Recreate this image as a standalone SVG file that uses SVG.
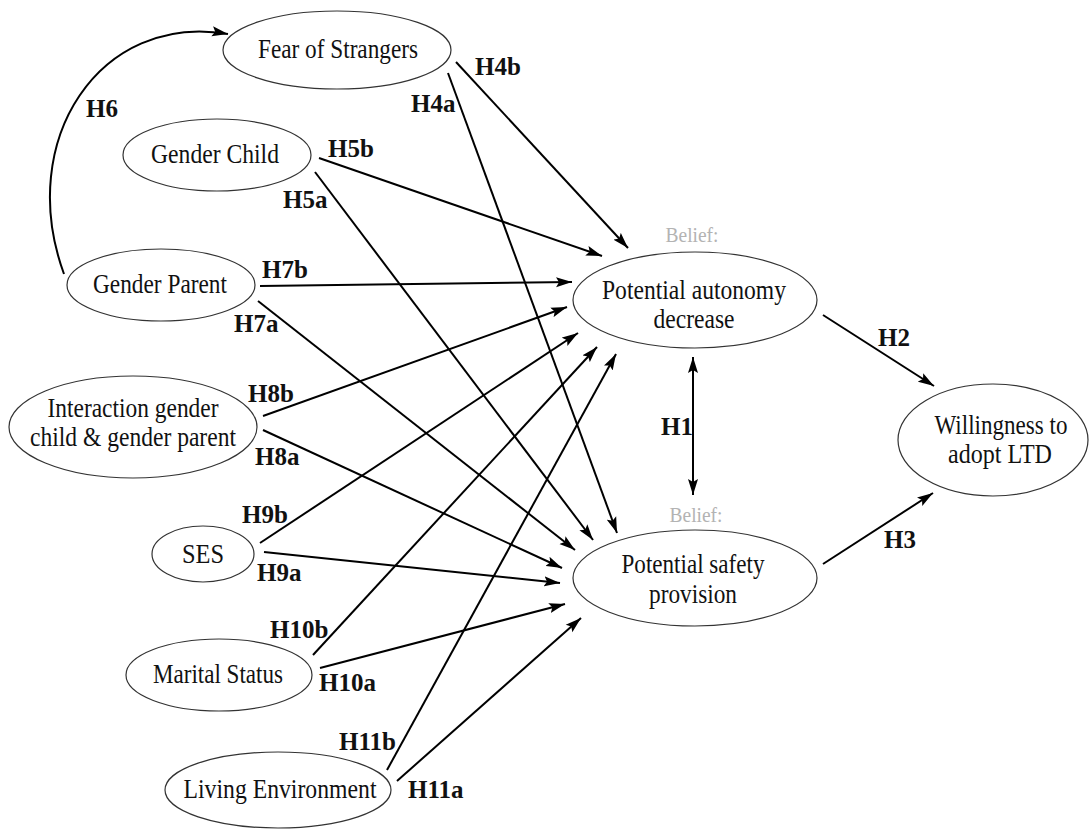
<svg xmlns="http://www.w3.org/2000/svg" width="1090" height="830" viewBox="0 0 1090 830">
<style>
.node ellipse{fill:#fff;stroke:#333;stroke-width:1.2}
.t{font-family:"Liberation Serif","Times New Roman",serif;font-size:26.5px;fill:#111;text-anchor:middle}
.b{font-family:"Liberation Serif","Times New Roman",serif;font-size:20px;fill:#b3b3b3;text-anchor:middle}
.lbl{font-family:"Liberation Serif","Times New Roman",serif;font-size:25px;font-weight:bold;fill:#111}
.edges line,.edges path{stroke:#000;stroke-width:2;fill:none;marker-end:url(#ah)}
</style>
<defs>
<marker id="ah" markerUnits="userSpaceOnUse" markerWidth="17" markerHeight="11" refX="16" refY="5.5" orient="auto">
<path d="M0,0.5 L16,5.5 L0,10.5 L3,5.5 z" fill="#000"/>
</marker>
<marker id="ahs" markerUnits="userSpaceOnUse" markerWidth="17" markerHeight="11" refX="0" refY="5.5" orient="auto">
<path d="M16,0.5 L0,5.5 L16,10.5 L13,5.5 z" fill="#000"/>
</marker>
</defs>
<rect width="1090" height="830" fill="#fff"/>

<g class="edges" id="connectors">
<path d="M64,274 C15,140 100,12 228,34"/>
<line x1="456" y1="62" x2="628" y2="248"/>
<line x1="448" y1="73" x2="617" y2="533"/>
<line x1="319" y1="158" x2="602" y2="256"/>
<line x1="315" y1="172" x2="593" y2="540"/>
<line x1="260" y1="286" x2="572" y2="282"/>
<line x1="258" y1="301" x2="575" y2="550"/>
<line x1="263" y1="416" x2="567" y2="307"/>
<line x1="263" y1="430" x2="562" y2="568"/>
<line x1="260" y1="543" x2="578" y2="333"/>
<line x1="264" y1="552" x2="560" y2="583"/>
<line x1="313" y1="655" x2="597" y2="347"/>
<line x1="320" y1="668" x2="565" y2="604"/>
<line x1="387" y1="770" x2="616" y2="354"/>
<line x1="397" y1="781" x2="581" y2="618"/>
<line x1="693" y1="357" x2="693" y2="495" style="marker-start:url(#ahs)"/>
<line x1="823" y1="315" x2="934" y2="386"/>
<line x1="823" y1="564" x2="933" y2="493"/>
</g>

<g id="fear" class="node"><ellipse cx="337" cy="50" rx="114" ry="39"/><text class="t" x="338" y="58" textLength="160" lengthAdjust="spacingAndGlyphs">Fear of Strangers</text></g>
<g id="genderChild" class="node"><ellipse cx="217" cy="155" rx="94" ry="36"/><text class="t" x="215" y="163" textLength="128" lengthAdjust="spacingAndGlyphs">Gender Child</text></g>
<g id="genderParent" class="node"><ellipse cx="161" cy="285" rx="94" ry="36"/><text class="t" x="160" y="293" textLength="134" lengthAdjust="spacingAndGlyphs">Gender Parent</text></g>
<g id="interaction" class="node"><ellipse cx="133" cy="427" rx="124" ry="51"/><text class="t" x="133" y="417" textLength="171" lengthAdjust="spacingAndGlyphs">Interaction gender</text><text class="t" x="133" y="446" textLength="206" lengthAdjust="spacingAndGlyphs">child &amp; gender parent</text></g>
<g id="ses" class="node"><ellipse cx="203" cy="554" rx="51" ry="28"/><text class="t" x="203" y="563" textLength="42" lengthAdjust="spacingAndGlyphs">SES</text></g>
<g id="marital" class="node"><ellipse cx="219" cy="675" rx="93" ry="36"/><text class="t" x="218" y="683" textLength="130" lengthAdjust="spacingAndGlyphs">Marital Status</text></g>
<g id="living" class="node"><ellipse cx="278" cy="790" rx="113" ry="38"/><text class="t" x="280" y="798" textLength="193" lengthAdjust="spacingAndGlyphs">Living Environment</text></g>
<g id="autonomy" class="node"><text class="b" x="692" y="242" textLength="53" lengthAdjust="spacingAndGlyphs">Belief:</text><ellipse cx="695" cy="300" rx="122" ry="48"/><text class="t" x="694" y="299" textLength="184" lengthAdjust="spacingAndGlyphs">Potential autonomy</text><text class="t" x="694" y="328" textLength="81" lengthAdjust="spacingAndGlyphs">decrease</text></g>
<g id="safety" class="node"><text class="b" x="696" y="522" textLength="53" lengthAdjust="spacingAndGlyphs">Belief:</text><ellipse cx="695" cy="578" rx="122" ry="48"/><text class="t" x="693" y="573" textLength="143" lengthAdjust="spacingAndGlyphs">Potential safety</text><text class="t" x="693" y="603" textLength="88" lengthAdjust="spacingAndGlyphs">provision</text></g>
<g id="willingness" class="node"><ellipse cx="993" cy="440" rx="95" ry="56"/><text class="t" x="1001" y="434" textLength="133" lengthAdjust="spacingAndGlyphs">Willingness to</text><text class="t" x="1000" y="463" textLength="104" lengthAdjust="spacingAndGlyphs">adopt LTD</text></g>

<g id="labels">
<text class="lbl" x="86" y="117">H6</text>
<text class="lbl" x="475" y="75">H4b</text>
<text class="lbl" x="411" y="112">H4a</text>
<text class="lbl" x="328" y="157">H5b</text>
<text class="lbl" x="283" y="208">H5a</text>
<text class="lbl" x="262" y="278">H7b</text>
<text class="lbl" x="234" y="332">H7a</text>
<text class="lbl" x="248" y="402">H8b</text>
<text class="lbl" x="255" y="465">H8a</text>
<text class="lbl" x="242" y="523">H9b</text>
<text class="lbl" x="257" y="581">H9a</text>
<text class="lbl" x="270" y="638">H10b</text>
<text class="lbl" x="319" y="691">H10a</text>
<text class="lbl" x="339" y="750">H11b</text>
<text class="lbl" x="408" y="798">H11a</text>
<text class="lbl" x="661" y="435">H1</text>
<text class="lbl" x="878" y="346">H2</text>
<text class="lbl" x="884" y="548">H3</text>
</g>
</svg>
